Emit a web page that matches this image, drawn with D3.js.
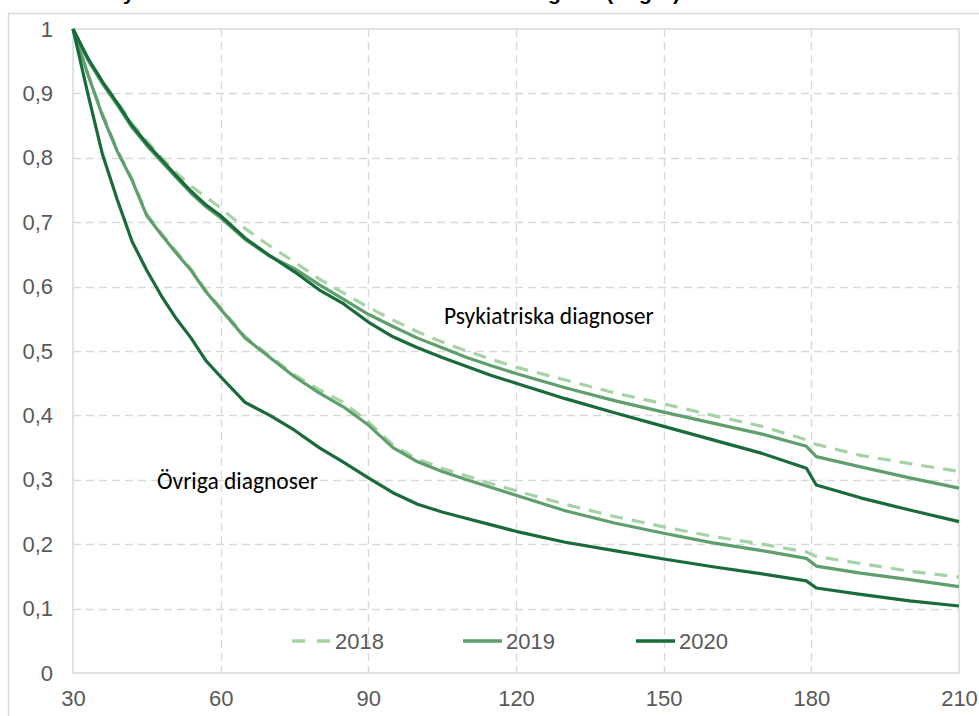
<!DOCTYPE html>
<html><head><meta charset="utf-8">
<script src="https://cdn.jsdelivr.net/npm/d3@7"></script>
<style>body{margin:0;background:#fff}svg{display:block}</style>
</head><body>
<svg id="c" width="979" height="716"></svg>
<script>
const days = [30,33,36,39,42,45,48,51,54,57,60,65,70,75,80,85,90,95,100,105,110,115,120,130,140,150,160,170,179,181,190,200,210];
const psyk2018 = [1,0.955,0.918,0.887,0.853,0.826,0.8,0.777,0.756,0.739,0.722,0.69,0.663,0.638,0.612,0.59,0.568,0.548,0.53,0.514,0.5,0.487,0.475,0.455,0.435,0.418,0.4,0.383,0.362,0.355,0.338,0.325,0.313];
const psyk2019 = [1,0.952,0.915,0.882,0.847,0.819,0.794,0.769,0.745,0.724,0.707,0.673,0.647,0.628,0.603,0.58,0.557,0.538,0.52,0.505,0.49,0.477,0.465,0.443,0.423,0.405,0.388,0.371,0.352,0.336,0.32,0.303,0.287];
const psyk2020 = [1,0.955,0.918,0.885,0.85,0.822,0.797,0.772,0.748,0.727,0.71,0.675,0.648,0.623,0.595,0.573,0.545,0.522,0.505,0.49,0.476,0.462,0.45,0.426,0.404,0.383,0.362,0.341,0.318,0.292,0.272,0.253,0.235];
const ovr2018 = [1,0.93,0.868,0.812,0.767,0.712,0.682,0.654,0.627,0.594,0.567,0.522,0.492,0.463,0.44,0.42,0.39,0.354,0.332,0.318,0.306,0.294,0.283,0.262,0.243,0.227,0.212,0.2,0.188,0.181,0.17,0.158,0.149];
const ovr2019 = [1,0.93,0.865,0.81,0.765,0.71,0.68,0.652,0.625,0.592,0.565,0.52,0.49,0.46,0.435,0.413,0.385,0.35,0.328,0.313,0.3,0.288,0.276,0.252,0.233,0.217,0.202,0.19,0.178,0.166,0.155,0.145,0.134];
const ovr2020 = [1,0.9,0.805,0.735,0.67,0.625,0.585,0.55,0.52,0.485,0.46,0.42,0.4,0.377,0.35,0.327,0.303,0.28,0.262,0.25,0.24,0.23,0.22,0.203,0.19,0.177,0.165,0.154,0.143,0.132,0.122,0.112,0.104];
const years = ["2018","2019","2020"];
const xTicks = [30,60,90,120,150,180,210];
const yTicks = [0,0.1,0.2,0.3,0.4,0.5,0.6,0.7,0.8,0.9,1];
const titleText = "Andel nya fall som kvarstår efter start utifrån diagnos (dagar)";
const labelPsyk = "Psykiatriska diagnoser";
const labelOvr = "Övriga diagnoser";

const colors = {"2018":"#a6d3a6","2019":"#5e9f6d","2020":"#196b3b"};
const series = [
  {year:"2018", vals:psyk2018},{year:"2019", vals:psyk2019},{year:"2020", vals:psyk2020},
  {year:"2018", vals:ovr2018},{year:"2019", vals:ovr2019},{year:"2020", vals:ovr2020}
];

const svg = d3.select("#c");
const L=73,R=959,T=29,B=673;
const x = d3.scaleLinear().domain([30,210]).range([L,R]);
const y = d3.scaleLinear().domain([0,1]).range([B,T]);
const font = "'Liberation Sans', Arial, sans-serif";

// chart area border
svg.append("path").attr("d",`M8.5,716 V13.5 H979`).attr("fill","none").attr("stroke","#d9d9d9").attr("stroke-width",1.5);

// clipped title (only its lowest part is visible in the frame)
const title = svg.append("text").attr("x",0).attr("y",0).attr("font-family",font).attr("font-size",21)
  .attr("fill","#000").attr("font-weight","bold").text(titleText);
{
  const node = title.node();
  const iy = titleText.indexOf("y"), ig = titleText.indexOf("gnos");
  const py = node.getStartPositionOfChar(iy).x, pg = node.getStartPositionOfChar(ig).x;
  const ls = ((548-123)-(pg-py))/(ig-iy);
  title.attr("letter-spacing",ls);
  const py2 = node.getStartPositionOfChar(iy).x;
  title.attr("x",123-py2);
}

// grid
const g = svg.append("g");
g.selectAll("line.h").data(yTicks.filter(d=>d>0&&d<1)).join("line")
  .attr("x1",L).attr("x2",R).attr("y1",d=>Math.round(y(d))+0.5).attr("y2",d=>Math.round(y(d))+0.5)
  .attr("stroke","#d9d9d9").attr("stroke-width",1.3).attr("stroke-dasharray","8,5");
g.selectAll("line.v").data(xTicks.filter(d=>d>30&&d<210)).join("line")
  .attr("y1",T).attr("y2",B).attr("x1",d=>Math.round(x(d))+0.5).attr("x2",d=>Math.round(x(d))+0.5)
  .attr("stroke","#d9d9d9").attr("stroke-width",1.3).attr("stroke-dasharray","8,5");
svg.append("rect").attr("x",L).attr("y",T).attr("width",R-L).attr("height",B-T)
  .attr("fill","none").attr("stroke","#d9d9d9").attr("stroke-width",1.5);

// axes
const xAxis = d3.axisBottom(x).tickValues(xTicks).tickSize(0).tickPadding(17).tickFormat(d3.format("d"));
const ax = svg.append("g").attr("transform",`translate(0,${B})`).call(xAxis);
ax.select(".domain").remove();
ax.selectAll("text").attr("font-family",font).attr("font-size",22).attr("fill","#595959");
const yAxis = d3.axisLeft(y).tickValues(yTicks).tickSize(0).tickPadding(20).tickFormat(d=>d===0?"0":d===1?"1":String(d.toFixed(1)).replace(".",","));
const ay = svg.append("g").attr("transform",`translate(${L},0)`).call(yAxis);
ay.select(".domain").remove();
ay.selectAll("text").attr("font-family",font).attr("font-size",22).attr("fill","#595959");

// lines
const line = d3.line().x((d,i)=>x(days[i])).y(d=>y(d));
const order = [0,3,1,4,2,5];
svg.selectAll("path.s").data(order.map(i=>series[i])).join("path")
  .attr("d",d=>line(d.vals)).attr("fill","none")
  .attr("stroke",d=>colors[d.year]).attr("stroke-width",3.2)
  .attr("stroke-linejoin","round")
  .attr("stroke-dasharray",d=>d.year==="2018"?"13,9":null);

// annotations
const afont = "Carlito, Lato, 'Open Sans', sans-serif";
svg.append("text").attr("x",444).attr("y",324).attr("font-family",afont).attr("font-size",23.5).attr("fill","#000").text(labelPsyk);
svg.append("text").attr("x",157).attr("y",489).attr("font-family",afont).attr("font-size",23.5).attr("fill","#000").text(labelOvr);

// legend
const lx = [292,463,636];
const lg = svg.selectAll("g.leg").data(years).join("g").attr("transform",(d,i)=>`translate(${lx[i]},641)`);
lg.append("line").attr("x1",0).attr("x2",39).attr("y1",0).attr("y2",0)
  .attr("stroke",d=>colors[d]).attr("stroke-width",3.5)
  .attr("stroke-dasharray",d=>d==="2018"?"13,12":null);
lg.append("text").attr("x",43).attr("y",8).attr("font-family",font).attr("font-size",22).attr("fill","#595959").text(d=>d);
</script>
</body></html>
